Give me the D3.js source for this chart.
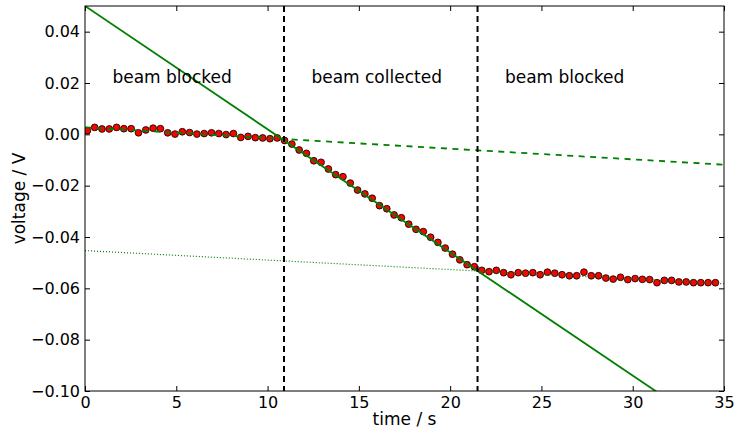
<!DOCTYPE html>
<html>
<head>
<meta charset="utf-8">
<script src="https://cdn.jsdelivr.net/npm/d3@7"></script>
<style>
  body { margin: 0; background: #fff; }
  svg { display: block; font-family: "DejaVu Sans", sans-serif; }
</style>
</head>
<body>
<div id="container"></div>
<script>
// Size of the page
let w = 736;
let h = 430;
let margin = { top: 6, right: 12, bottom: 39, left: 85 };

// Measured samples (time in s, voltage in V)
let times = [0.13, 0.53, 0.93, 1.33, 1.73, 2.13, 2.53, 2.93, 3.33, 3.73,
  4.13, 4.53, 4.93, 5.33, 5.73, 6.13, 6.53, 6.93, 7.33, 7.73,
  8.13, 8.53, 8.93, 9.33, 9.73, 10.13, 10.53, 10.93, 11.33, 11.73,
  12.13, 12.53, 12.93, 13.33, 13.73, 14.13, 14.53, 14.93, 15.33, 15.73,
  16.13, 16.53, 16.93, 17.33, 17.73, 18.13, 18.53, 18.93, 19.33, 19.73,
  20.13, 20.53, 20.93, 21.33, 21.73, 22.13, 22.53, 22.93, 23.33, 23.73,
  24.13, 24.53, 24.93, 25.33, 25.73, 26.13, 26.53, 26.93, 27.33, 27.73,
  28.13, 28.53, 28.93, 29.33, 29.73, 30.13, 30.53, 30.93, 31.33, 31.73,
  32.13, 32.53, 32.93, 33.33, 33.73, 34.13, 34.53];

let voltages = [0.0014, 0.0027, 0.0021, 0.0021, 0.0027, 0.0022, 0.0022, 0.0006, 0.0017, 0.0024,
  0.0022, 0.0006, 0.0001, 0.0010, 0.0007, 0.0001, 0.0003, 0.0006, 0.0003, -0.0001,
  0.0003, -0.0012, -0.0008, -0.0013, -0.0014, -0.0017, -0.0014, -0.0024, -0.0038, -0.0061,
  -0.0074, -0.0103, -0.0109, -0.0135, -0.0157, -0.0165, -0.0190, -0.0217, -0.0232, -0.0249,
  -0.0278, -0.0290, -0.0314, -0.0325, -0.0350, -0.0370, -0.0379, -0.0401, -0.0421, -0.0443,
  -0.0467, -0.0489, -0.0508, -0.0516, -0.0530, -0.0535, -0.0530, -0.0539, -0.0547, -0.0539,
  -0.0541, -0.0539, -0.0547, -0.0537, -0.0541, -0.0547, -0.0551, -0.0551, -0.0537, -0.0551,
  -0.0551, -0.0560, -0.0564, -0.0557, -0.0566, -0.0562, -0.0565, -0.0566, -0.0578, -0.0569,
  -0.0569, -0.0575, -0.0575, -0.0578, -0.0578, -0.0578, -0.0578];

// Linear fits: [intercept, slope]
let fitCollected = [0.05, -0.0048];
let fitBefore = [0.0027, -0.000415];
let fitAfter = [-0.0453, -0.000369];

// Beam switch times
let switchTimes = [10.9, 21.5];

// Region labels
let regionLabels = ["beam blocked", "beam collected", "beam blocked"];
let regionLabelX = [1.5, 12.4, 23.0];
let regionLabelY = 0.02;

// Axis ticks
let xTicks = [0, 5, 10, 15, 20, 25, 30, 35];
let yTicks = [-0.10, -0.08, -0.06, -0.04, -0.02, 0.00, 0.02, 0.04];

let green = "#008000";

let x = d3.scaleLinear().domain([0, 35]).range([margin.left, w - margin.right]);
let y = d3.scaleLinear().domain([-0.10, 0.05]).range([h - margin.bottom, margin.top]);

let svg = d3.select("#container")
  .append("svg")
  .attr("width", w)
  .attr("height", h);

svg.append("clipPath").attr("id", "plotClip")
  .append("rect")
  .attr("x", x(0)).attr("y", y(0.05))
  .attr("width", x(35) - x(0)).attr("height", y(-0.10) - y(0.05));

let plot = svg.append("g").attr("clip-path", "url(#plotClip)");

// Data points
plot.selectAll("circle")
  .data(times)
  .enter()
  .append("circle")
  .attr("cx", function(d) { return x(d); })
  .attr("cy", function(d, i) { return y(voltages[i]); })
  .attr("r", 3.4)
  .style("fill", "#ff0000")
  .style("stroke", "#000")
  .style("stroke-width", 0.8);

// Fit lines
function fitLine(fit, dash, width) {
  let line = d3.line()
    .x(function(d) { return x(d); })
    .y(function(d) { return y(fit[0] + fit[1] * d); });
  plot.append("path")
    .attr("d", line([0, 35]))
    .style("fill", "none")
    .style("stroke", green)
    .style("stroke-width", width)
    .style("stroke-dasharray", dash);
}
fitLine(fitCollected, null, 1.8);
fitLine(fitBefore, "6,5.5", 1.8);
fitLine(fitAfter, "1,2", 1.2);

// Vertical dashed lines at the switch times
plot.selectAll("line.switch")
  .data(switchTimes)
  .enter()
  .append("line")
  .attr("class", "switch")
  .attr("x1", function(d) { return x(d); })
  .attr("x2", function(d) { return x(d); })
  .attr("y1", y(0.05))
  .attr("y2", y(-0.10))
  .style("stroke", "#000")
  .style("stroke-width", 2)
  .style("stroke-dasharray", "6,4");

// Region labels
svg.selectAll("text.region")
  .data(regionLabels)
  .enter()
  .append("text")
  .attr("class", "region")
  .attr("x", function(d, i) { return x(regionLabelX[i]); })
  .attr("y", y(regionLabelY))
  .style("font-size", "17px")
  .text(function(d) { return d; });

// Axes (ticks point inward, on all four sides)
let tickLen = 5;
let fmtY = function(d) { return d3.format(".2f")(d).replace("-", "\u2212"); };

svg.append("g")
  .attr("transform", "translate(0," + y(-0.10) + ")")
  .call(d3.axisBottom(x).tickValues(xTicks).tickSizeInner(-tickLen).tickSizeOuter(0).tickPadding(6))
  .call(function(g) { g.select(".domain").remove(); });
svg.append("g")
  .attr("transform", "translate(0," + y(0.05) + ")")
  .call(d3.axisTop(x).tickValues(xTicks).tickSizeInner(-tickLen).tickSizeOuter(0).tickFormat(""))
  .call(function(g) { g.select(".domain").remove(); });
svg.append("g")
  .attr("transform", "translate(" + x(0) + ",0)")
  .call(d3.axisLeft(y).tickValues(yTicks).tickSizeInner(-tickLen).tickSizeOuter(0).tickPadding(5).tickFormat(fmtY))
  .call(function(g) { g.select(".domain").remove(); });
svg.append("g")
  .attr("transform", "translate(" + x(35) + ",0)")
  .call(d3.axisRight(y).tickValues(yTicks).tickSizeInner(-tickLen).tickSizeOuter(0).tickFormat(""))
  .call(function(g) { g.select(".domain").remove(); });

svg.selectAll(".tick text")
  .style("font-family", "DejaVu Sans, sans-serif")
  .style("font-size", "16px")
  .style("fill", "#000");
svg.selectAll(".tick line").style("stroke", "#000");

// Frame
svg.append("rect")
  .attr("x", x(0)).attr("y", y(0.05))
  .attr("width", x(35) - x(0)).attr("height", y(-0.10) - y(0.05))
  .style("fill", "none")
  .style("stroke", "#000")
  .style("stroke-width", 1);

// Axis titles
svg.append("text")
  .attr("x", (x(0) + x(35)) / 2)
  .attr("y", 425)
  .attr("text-anchor", "middle")
  .style("font-size", "17px")
  .text("time / s");

svg.append("text")
  .attr("transform", "translate(25," + (y(-0.10) + y(0.05)) / 2 + ") rotate(-90)")
  .attr("text-anchor", "middle")
  .style("font-size", "17px")
  .text("voltage / V");
</script>
</body>
</html>
